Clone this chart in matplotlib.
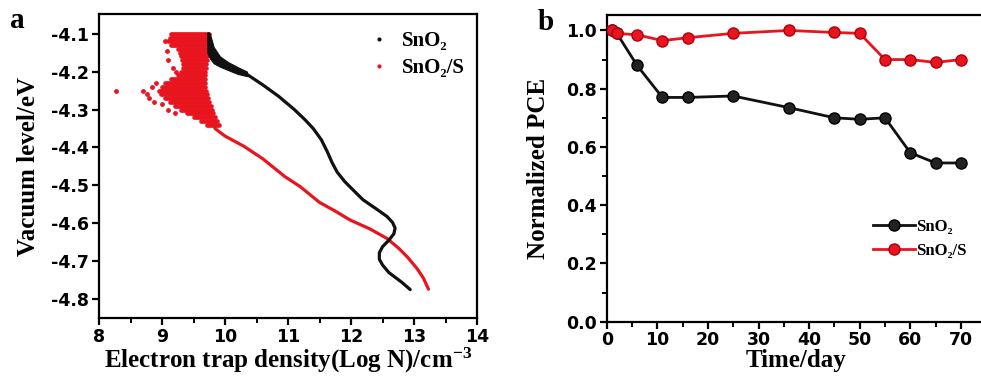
import matplotlib
matplotlib.use("Agg")
import matplotlib.pyplot as plt
from matplotlib.ticker import MultipleLocator

plt.rcParams["mathtext.fontset"] = "custom"
plt.rcParams["mathtext.rm"] = "Liberation Serif:bold"
plt.rcParams["mathtext.bf"] = "Liberation Serif:bold"
plt.rcParams["mathtext.it"] = "Liberation Serif:bold"

# ---------------- Panel a data ----------------
# SnO2/S scattered cloud: rows (y level, x min, x max)
cloud_y = [-4.10, -4.11, -4.12, -4.13, -4.14, -4.15, -4.16, -4.17, -4.18, -4.19,
           -4.20, -4.21, -4.22, -4.23, -4.24, -4.25, -4.26, -4.27, -4.28, -4.29,
           -4.30, -4.31, -4.32, -4.33, -4.34]
cloud_xmin = [9.15, 9.12, 9.10, 9.15, 9.25, 9.28, 9.30, 9.32, 9.33, 9.33,
              9.30, 9.25, 9.15, 9.05, 9.00, 8.95, 8.98, 9.05, 9.12, 9.20,
              9.30, 9.40, 9.50, 9.62, 9.72]
cloud_xmax = [9.74, 9.74, 9.74, 9.74, 9.74, 9.73, 9.72, 9.71, 9.70, 9.70,
              9.69, 9.68, 9.68, 9.68, 9.69, 9.70, 9.71, 9.73, 9.75, 9.77,
              9.79, 9.81, 9.84, 9.87, 9.90]
stray_x = [8.27, 8.70, 8.76, 8.84, 8.80, 8.90, 8.88, 9.05, 9.08, 9.10, 9.18, 9.00, 9.10, 9.20, 9.22]
stray_y = [-4.25, -4.25, -4.26, -4.24, -4.27, -4.23, -4.28, -4.12, -4.145, -4.17, -4.19, -4.285, -4.30, -4.31, -4.20]

# SnO2/S smooth part
red_x = [9.84, 10.0, 10.3, 10.6, 10.95, 11.19, 11.5, 11.75, 11.98, 12.3, 12.57, 12.75, 12.9, 13.05,
         13.15, 13.23]
red_y = [-4.350, -4.37, -4.397, -4.43, -4.477, -4.503, -4.545, -4.568, -4.591, -4.615, -4.640, -4.665,
         -4.690, -4.720, -4.745, -4.774]

# SnO2 curve
blk_x = [9.74, 9.75, 9.77, 9.80, 10.0, 10.32, 10.6, 10.85, 11.1, 11.27, 11.4, 11.53, 11.62, 11.70,
         11.78, 11.90, 12.05, 12.19, 12.4, 12.57, 12.66, 12.70, 12.68, 12.60, 12.50, 12.45, 12.45,
         12.50, 12.6, 12.8, 12.94]
blk_y = [-4.10, -4.12, -4.14, -4.16, -4.18, -4.204, -4.235, -4.265, -4.30, -4.327, -4.350, -4.380,
         -4.410, -4.440, -4.465, -4.490, -4.515, -4.538, -4.562, -4.582, -4.598, -4.613, -4.628,
         -4.645, -4.662, -4.678, -4.695, -4.710, -4.730, -4.755, -4.775]
# upper thick band of SnO2 (parallel traces)
band_x = [9.72, 9.76, 9.82, 9.92, 10.05, 10.2, 10.35]
band_y_top = [-4.10, -4.10, -4.135, -4.160, -4.175, -4.188, -4.200]
band_y_bot = [-4.15, -4.165, -4.178, -4.187, -4.196, -4.206, -4.212]

# ---------------- Panel b data ----------------
days = [1, 2, 6, 11, 16, 25, 36, 45, 50, 55, 60, 65, 70]
pce_sno2 = [1.0, 0.99, 0.88, 0.77, 0.77, 0.775, 0.735, 0.70, 0.695, 0.70, 0.58, 0.545, 0.545]
pce_sno2s = [1.0, 0.99, 0.985, 0.965, 0.975, 0.99, 1.0, 0.993, 0.99, 0.90, 0.90, 0.89, 0.90]

label_sno2 = "SnO\u2082"
label_sno2s = "SnO\u2082/S"

RED = "#e8141e"
serif = ["Liberation Serif", "DejaVu Serif"]
tickfont = ["DejaVu Sans"]

fig = plt.figure(figsize=(9.81, 3.81), dpi=100)

# ================= Panel a =================
axa = fig.add_axes([99 / 981, 1 - 318 / 381, 378 / 981, 304 / 381])
lc = axa.hlines(cloud_y, cloud_xmin, cloud_xmax, colors=RED, lw=3.4, zorder=2)
lc.set_capstyle("round")
axa.scatter(stray_x, stray_y, s=6, color=RED, zorder=2)
axa.plot(red_x, red_y, color=RED, lw=2.3, solid_capstyle="round", zorder=2)
axa.fill_between(band_x, band_y_bot, band_y_top, color="#111111", lw=0.8, zorder=3)
axa.plot(blk_x, blk_y, color="#111111", lw=2.3, solid_capstyle="round", zorder=3)
# legend proxies
axa.plot([], [], ls="none", marker=".", ms=4, color="#111111", label=label_sno2)
axa.plot([], [], ls="none", marker=".", ms=4, color=RED, label=label_sno2s)

axa.set_xlim(8, 14)
axa.xaxis.set_major_locator(MultipleLocator(1))
axa.xaxis.set_minor_locator(MultipleLocator(0.5))
axa.set_yticks([-4.8, -4.7, -4.6, -4.5, -4.4, -4.3, -4.2, -4.1])
axa.set_yticklabels(["-4.8", "-4.7", "-4.6", "-4.5", "-4.4", "-4.3", "-4.2", "-4.1"])
axa.set_ylim(-4.85, -4.048)
axa.set_xlabel("Electron trap density(Log N)/cm$^{-3}$", family=serif, fontweight="bold",
               fontsize=18, labelpad=0)
axa.set_ylabel("Vacuum level/eV", family=serif, fontweight="bold", fontsize=18, labelpad=8)
axa.legend(loc="upper right", bbox_to_anchor=(1.0, 0.985), frameon=False,
           prop={"family": serif, "weight": "bold", "size": 15}, handlelength=1.0,
           handletextpad=0.6, labelspacing=0.35, borderaxespad=0.2)
fig.text(10 / 981, 1 - 28 / 381, "a", family=serif, fontweight="bold", fontsize=21)

# ================= Panel b =================
axb = fig.add_axes([606.7 / 981, 1 - 321.7 / 381, 379.5 / 981, 306.7 / 381])
axb.plot(days, pce_sno2, color="#111111", lw=2.0, marker="o", ms=8, mfc="#222222",
         mec="#000000", mew=1.0, label=label_sno2, zorder=3)
axb.plot(days, pce_sno2s, color=RED, lw=2.0, marker="o", ms=8, mfc=RED,
         mec="#b00010", mew=1.0, label=label_sno2s, zorder=3)
axb.set_xlim(0, 75)
axb.set_ylim(0, 1.053)
axb.xaxis.set_major_locator(MultipleLocator(10))
axb.xaxis.set_minor_locator(MultipleLocator(5))
axb.yaxis.set_major_locator(MultipleLocator(0.2))
axb.yaxis.set_minor_locator(MultipleLocator(0.1))
axb.set_xlabel("Time/day", family=serif, fontweight="bold", fontsize=18, labelpad=0)
axb.set_ylabel("Normalized PCE", family=serif, fontweight="bold", fontsize=18, labelpad=12)
axb.legend(loc="upper left", bbox_to_anchor=(0.685, 0.356), frameon=False,
           prop={"family": serif, "weight": "bold", "size": 12}, handlelength=2.5,
           handletextpad=0.05, labelspacing=0.45, borderaxespad=0.0)
fig.text(538 / 981, 1 - 30 / 381, "b", family=serif, fontweight="bold", fontsize=21)

for ax in (axa, axb):
    for sp in ax.spines.values():
        sp.set_linewidth(1.6)
    ax.tick_params(which="major", direction="out", length=5, width=1.6, labelsize=12.5, pad=2)
    ax.tick_params(which="minor", direction="out", length=3.5, width=1.4)
    for lab in ax.get_xticklabels() + ax.get_yticklabels():
        lab.set_family(tickfont)
        lab.set_fontweight("bold")

fig.savefig("out.png", dpi=100)
